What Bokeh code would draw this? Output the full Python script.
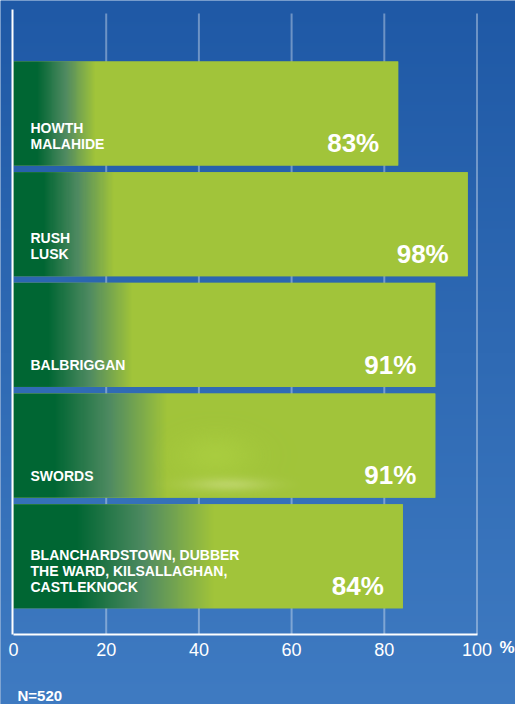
import numpy as np
from bokeh.plotting import figure
from bokeh.models import Range1d, Label, ColumnDataSource, FixedTicker
from bokeh.core.properties import value
from bokeh.embed import file_html
from bokeh.resources import INLINE

# ---------------- data ----------------
categories = [
    "HOWTH\nMALAHIDE",
    "RUSH\nLUSK",
    "BALBRIGGAN",
    "SWORDS",
    "BLANCHARDSTOWN, DUBBER\nTHE WARD, KILSALLAGHAN,\nCASTLEKNOCK",
]
percent = [83, 98, 91, 91, 84]
ticks = [0, 20, 40, 60, 80, 100]
tick_labels = ["0", "20", "40", "60", "80", "100"]
unit_label = "%"
sample_note = "N=520"

# ---------------- style / layout (pixels) ----------------
W, H = 515, 704
PX_PER_UNIT = 4.635      # px per axis unit
X0_PX = 13               # px position of value 0
PITCH = 110.7            # px between bar centres
TOP_CENTER = 113         # px of first bar centre
BAR_H = 0.94
AXIS_PX = 634            # px of x-axis line
GRID_TOP_PX = 13
# gradient fade (start, end) per bar, in axis units
FADES = [(5, 17.5), (6.3, 21.5), (7.3, 25.5), (8.7, 33), (13.5, 43)]
DARK = np.array([0, 102, 51])
MID = np.array([80, 139, 98])
LIGHT = np.array([161, 196, 58])
BG_TOP = np.array([31, 89, 166])
BG_BOTTOM = np.array([63, 123, 194])
FONT = value("Liberation Sans")

n = len(categories)
ypos = [n - 1 - i for i in range(n)]
x_start = -X0_PX / PX_PER_UNIT
x_end = (W - X0_PX) / PX_PER_UNIT
y_end = (n - 1) + TOP_CENTER / PITCH
y_start = y_end - H / PITCH


def py(px):
    return y_end - px / PITCH


def px_x(px):
    return (px - X0_PX) / PX_PER_UNIT


axis_y = py(AXIS_PX)

p = figure(width=W, height=H,
           x_range=Range1d(x_start, x_end), y_range=Range1d(y_start, y_end),
           output_backend="svg", toolbar_location=None,
           min_border_left=0, min_border_right=0, min_border_top=0,
           min_border_bottom=0)
p.outline_line_color = None
p.border_fill_color = "#2e69b4"
p.background_fill_color = "#2e69b4"
p.xgrid.visible = False
p.ygrid.visible = False


def to_rgba(arr, alpha=None):
    rows, cols, _ = arr.shape
    a = np.empty((rows, cols, 4), dtype=np.uint8)
    a[..., :3] = np.clip(arr, 0, 255).astype(np.uint8)
    a[..., 3] = 255 if alpha is None else np.clip(alpha * 255, 0, 255).astype(np.uint8)
    return a.view(dtype=np.uint32).reshape(rows, cols)


# background vertical gradient
rows = 500
f = np.linspace(0, 1, rows)[:, None]  # 0 bottom, 1 top
bg = (BG_BOTTOM[None, :] * (1 - f) + BG_TOP[None, :] * f)[:, None, :].repeat(2, axis=1)
bg_r = p.image_rgba(image=[to_rgba(bg)], x=x_start, y=y_start,
                    dw=x_end - x_start, dh=y_end - y_start)
bg_r.level = "image"

# grid lines
gt = ticks[1:]
p.segment(x0=gt, x1=gt, y0=[axis_y] * len(gt), y1=[py(GRID_TOP_PX)] * len(gt),
          line_color="white", line_alpha=0.35, line_width=2)

# bars
p.hbar(y=ypos, right=percent, left=0, height=BAR_H, fill_color="#a1c43a", line_color=None)

imgs = []
for v, (s, e) in zip(percent, FADES):
    cols = 400
    xv = (np.arange(cols) + 0.5) / cols * v
    t = np.clip((xv - s) / (e - s), 0, 1)
    col = np.where((t < 0.5)[:, None],
                   DARK[None, :] + (MID - DARK)[None, :] * (t[:, None] * 2),
                   MID[None, :] + (LIGHT - MID)[None, :] * ((t[:, None] - 0.5) * 2))
    imgs.append(to_rgba(col[None, :, :].repeat(2, axis=0)))
p.image_rgba(image=imgs, x=[0] * n, y=[y - BAR_H / 2 for y in ypos], dw=percent, dh=[BAR_H] * n)

# soft cloud texture inside the fourth bar (decorative, from the original artwork)
cw, ch = 150, 88          # px size of texture
cx0, cy_bottom = 150, 498  # px origin (left, bottom)
gx, gy = np.meshgrid(np.arange(cw) + 0.5, np.arange(ch) + 0.5)  # gy from bottom
gx_abs = cx0 + gx
gy_abs = cy_bottom - gy
glow = 0.45 * np.exp(-(((gx_abs - 215) / 38) ** 2 + ((gy_abs - 455) / 22) ** 2))
wisp = 0.45 * np.exp(-(((gx_abs - 228) / 42) ** 2 + ((gy_abs - 484) / 7) ** 2))
alpha = np.clip(glow + wisp, 0, 1)
rgb = np.empty((ch, cw, 3))
mixw = wisp / np.maximum(glow + wisp, 1e-6)
rgb[..., 0] = 178 + (215 - 178) * mixw
rgb[..., 1] = 214 + (228 - 214) * mixw
rgb[..., 2] = 70 + (150 - 70) * mixw
p.image_rgba(image=[to_rgba(rgb, alpha)], x=px_x(cx0), y=py(cy_bottom),
             dw=cw / PX_PER_UNIT, dh=ch / PITCH)

# category labels
lx, ly, lt, lo = [], [], [], []
for y, cat in zip(ypos, categories):
    lines = cat.split("\n")
    k = len(lines)
    for j, ln in enumerate(lines):
        lx.append(0)
        ly.append(y)
        lt.append(ln)
        lo.append(30.2 - (k - 1 - j) * 16)
src = ColumnDataSource(dict(x=lx, y=ly, text=lt, yo=lo))
p.text(x="x", y="y", text="text", y_offset="yo", source=src, x_offset=17,
       text_align="left", text_baseline="middle", text_color="white",
       text_font=FONT, text_font_style="bold", text_font_size="14px")

# percent labels
p.text(x=percent, y=ypos, text=[f"{v}%" for v in percent], x_offset=-19, y_offset=29.6,
       text_align="right", text_baseline="middle", text_color="white",
       text_font=FONT, text_font_style="bold", text_font_size="26px")

# x axis (drawn at the fixed axis position inside the frame)
ax = p.xaxis[0]
ax.fixed_location = axis_y
ax.ticker = FixedTicker(ticks=ticks)
ax.major_label_overrides = {t: l for t, l in zip(ticks, tick_labels)}
ax.bounds = (0, 100)
ax.axis_line_color = "white"
ax.axis_line_width = 2
ax.major_tick_line_color = None
ax.minor_tick_line_color = None
ax.major_tick_out = 0
ax.major_tick_in = 0
ax.major_label_standoff = 8
ax.major_label_text_color = "white"
ax.major_label_text_font = "Liberation Sans"
ax.major_label_text_font_size = "18px"

# left white axis line
ay = p.yaxis[0]
ay.fixed_location = px_x(11.5)
ay.bounds = (axis_y, py(9))
ay.ticker = FixedTicker(ticks=[])
ay.axis_line_color = "white"
ay.axis_line_width = 2
ay.major_tick_line_color = None
ay.minor_tick_line_color = None
ay.major_label_text_color = None

p.add_layout(Label(x=px_x(499), y=py(647.2), text=unit_label, text_color="white",
                   text_font="Liberation Sans", text_font_style="bold",
                   text_font_size="17px", text_align="left", text_baseline="middle"))
p.add_layout(Label(x=px_x(17), y=py(695.3), text=sample_note,
                   text_color="white", text_font="Liberation Sans", text_font_style="bold",
                   text_font_size="15px", text_align="left", text_baseline="middle"))

open("out.html", "w").write(file_html(p, INLINE))
